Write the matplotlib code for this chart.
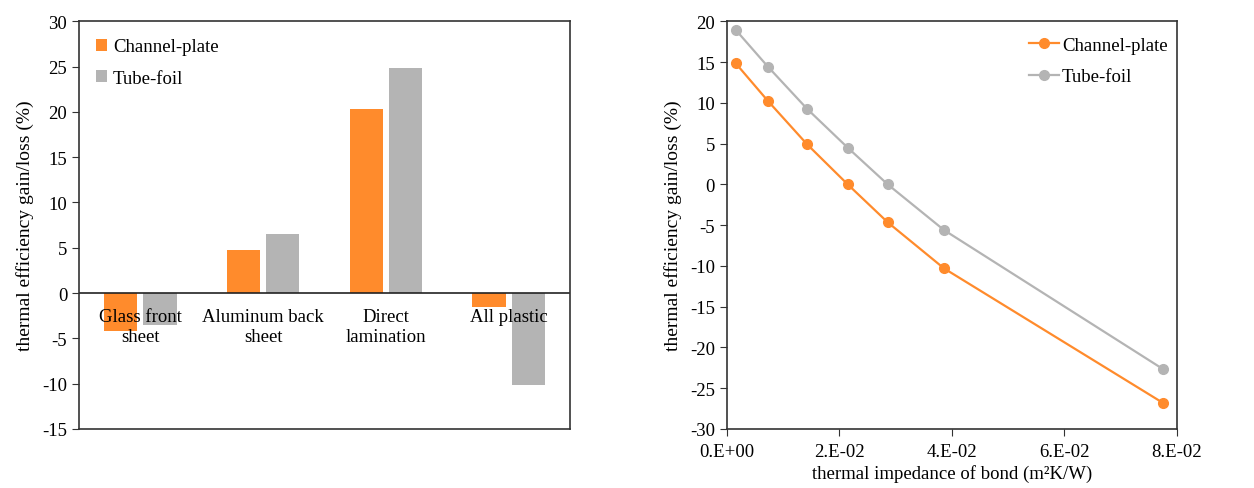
""" Thermal efficiency gain/loss plots
"""

import matplotlib
matplotlib.use('Agg')
import matplotlib.pyplot as plt
from matplotlib.ticker import FuncFormatter

plt.rcParams['font.family'] = ['Liberation Serif', 'DejaVu Serif']
plt.rcParams['axes.unicode_minus'] = False

# left panel: design variants
variants = ['Glass front\nsheet', 'Aluminum back\nsheet', 'Direct\nlamination', 'All plastic']
channel_bars = [-4.2, 4.75, 20.3, -1.5]
tube_bars = [-3.5, 6.5, 24.9, -10.2]

# right panel: bond thermal impedance sweep
impedance = [0.0016, 0.0073, 0.0143, 0.0215, 0.0286, 0.0386, 0.0775]
channel_line = [14.85, 10.25, 4.9, 0.0, -4.65, -10.3, -26.8]
tube_line = [18.95, 14.45, 9.25, 4.5, 0.0, -5.6, -22.65]

orange = '#FF8B2C'
grey = '#B4B4B4'
ylab = 'thermal efficiency gain/loss (%)'

fig = plt.figure(figsize=(12.54, 4.89), dpi=100)
ax1 = fig.add_axes([0.063, 0.1207, 0.3915, 0.8337])
ax2 = fig.add_axes([0.5795, 0.1207, 0.3591, 0.8337])

# --- bar chart
pos = list(range(len(variants)))
w = 0.27
ax1.bar([p - 0.16 for p in pos], channel_bars, w, color=orange, label='Channel-plate')
ax1.bar([p + 0.16 for p in pos], tube_bars, w, color=grey, label='Tube-foil')
ax1.axhline(0, color='#222222', lw=1.2)
for p, name in zip(pos, variants):
    ax1.text(p, -1.6, name, ha='center', va='top', fontsize=13.5, linespacing=1.3)
ax1.set_xlim(-0.5, len(variants) - 0.5)
ax1.set_ylim(-15, 30)
ax1.set_yticks(range(-15, 31, 5))
ax1.set_xticks([])
ax1.set_ylabel(ylab, fontsize=14, labelpad=6)
ax1.legend(loc='upper left', frameon=False, handlelength=0.6, handleheight=0.6,
           handletextpad=0.3, fontsize=13.5, borderaxespad=0.5, labelspacing=0.77)

# --- line chart
ax2.plot(impedance, channel_line, color=orange, marker='o', ms=7, lw=1.6,
         label='Channel-plate')
ax2.plot(impedance, tube_line, color=grey, marker='o', ms=7, lw=1.6,
         label='Tube-foil')
ax2.set_xlim(0, 0.08)
ax2.set_ylim(-30, 20)
ax2.set_yticks(range(-30, 21, 5))
ax2.set_xticks([0, 0.02, 0.04, 0.06, 0.08])
ax2.xaxis.set_major_formatter(FuncFormatter(
    lambda v, _: '0.E+00' if v == 0 else '%d.E-02' % round(v * 100)))
ax2.set_ylabel(ylab, fontsize=14, labelpad=6)
ax2.set_xlabel('thermal impedance of bond (m²K/W)', fontsize=13.5, labelpad=3)
ax2.legend(loc='upper right', bbox_to_anchor=(1.0, 0.985), frameon=False,
           handlelength=1.6, handletextpad=0.15, fontsize=13.5,
           borderaxespad=0.1, labelspacing=0.77)

for ax in (ax1, ax2):
    for s in ax.spines.values():
        s.set_color('#333333')
        s.set_linewidth(1.2)
    ax.tick_params(direction='out', length=5, color='#333333', labelsize=13.5)
ax2.tick_params(axis='x', pad=5)

plt.savefig('out.png', dpi=100)
